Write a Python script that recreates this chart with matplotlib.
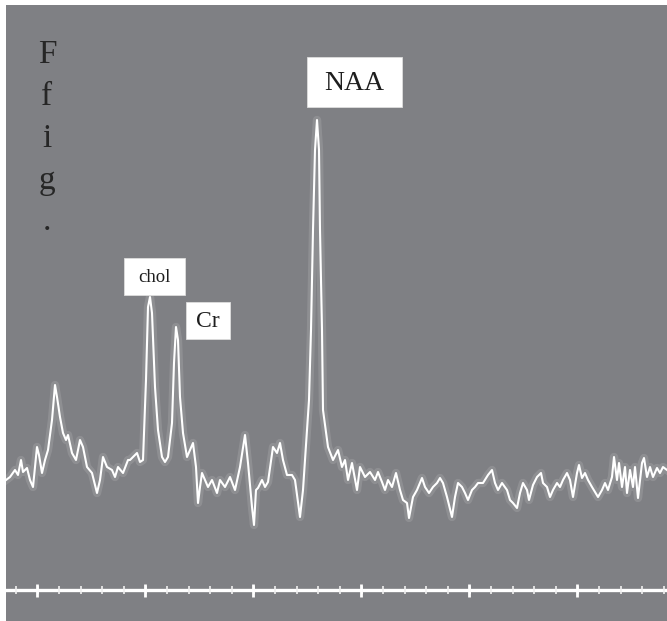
import numpy as np
import matplotlib
matplotlib.use("Agg")
import matplotlib.pyplot as plt
from matplotlib.patches import Rectangle

# Spectrum trace: horizontal position and signal intensity
position = [
    6, 10, 15, 18, 21, 23, 27, 30, 33, 37, 39, 42,
    45, 48, 52, 55, 57, 60, 63, 66, 68, 72, 76, 80,
    83, 87, 92, 97, 100, 103, 107, 112, 115, 118, 123, 128,
    130, 137, 140, 143, 146, 148, 150, 152, 155, 158, 162, 165,
    168, 172, 174, 176, 178, 180, 183, 187, 190, 193, 196, 198,
    200, 202, 205, 208, 212, 217, 220, 225, 230, 235, 240, 245,
    248, 252, 254, 256, 258, 262, 265, 268, 273, 277, 280, 283,
    287, 292, 295, 300, 303, 306, 309, 311, 313, 315, 317, 319,
    320, 322, 323, 328, 333, 338, 342, 345, 348, 352, 357, 360,
    365, 370, 375, 378, 382, 385, 388, 392, 396, 400, 403, 407,
    409, 413, 417, 422, 425, 429, 433, 437, 440, 443, 447, 452,
    455, 458, 462, 465, 468, 472, 475, 478, 483, 488, 492, 495,
    498, 502, 507, 510, 513, 517, 520, 523, 527, 529, 533, 537,
    541, 543, 547, 550, 553, 557, 560, 563, 567, 570, 573, 577,
    579, 582, 585, 588, 592, 595, 598, 602, 605, 608, 612, 614,
    617, 619, 622, 625, 627, 630, 633, 635, 638, 642, 644, 647,
    650, 653, 657, 660, 663, 667,
]
intensity = [
    120, 123, 130, 125, 140, 128, 132, 120, 113, 153, 145, 127,
    140, 150, 180, 215, 203, 183, 167, 160, 165, 147, 140, 160,
    153, 133, 127, 107, 120, 143, 133, 130, 123, 133, 127, 140,
    140, 147, 138, 140, 220, 293, 303, 287, 213, 170, 143, 138,
    143, 177, 237, 273, 260, 203, 167, 143, 150, 157, 133, 97,
    113, 127, 120, 113, 120, 107, 120, 113, 123, 110, 133, 165,
    137, 93, 75, 110, 112, 120, 113, 118, 153, 147, 157, 140,
    125, 125, 120, 83, 110, 155, 200, 270, 370, 450, 480, 450,
    370, 270, 190, 153, 140, 150, 133, 140, 120, 137, 110, 133,
    123, 128, 120, 128, 118, 110, 120, 113, 127, 110, 100, 97,
    82, 103, 110, 122, 113, 107, 113, 117, 122, 117, 103, 83,
    103, 117, 113, 107, 100, 110, 113, 117, 117, 125, 130, 117,
    110, 117, 110, 100, 97, 92, 107, 117, 110, 100, 115, 123,
    127, 117, 113, 103, 110, 117, 113, 120, 127, 120, 103, 127,
    135, 122, 127, 120, 113, 108, 103, 110, 117, 110, 123, 143,
    120, 137, 113, 133, 107, 130, 113, 133, 102, 137, 142, 123,
    133, 123, 132, 127, 133, 130,
]

# Peak labels and where their boxes sit (x-centre, intensity-centre)
peak_labels = ["NAA", "chol", "Cr"]
peak_label_x = [354.5, 154.5, 208.0]
peak_label_y = [518.0, 324.0, 279.5]

# Frequency scale along the bottom
scale_level = 10
scale_major = [37, 145, 253, 361, 469, 577]
scale_minor_start, scale_minor_step = 16, 21.6

W, H = 667, 621
fig = plt.figure(figsize=(W / 100, H / 100), dpi=100, facecolor="white")
ax = fig.add_axes([6 / W, 0, 661 / W, 616 / H])
ax.set_facecolor("#7f8084")
ax.set_xlim(6, 667)
ax.set_ylim(-21, 595)
ax.set_xticks([])
ax.set_yticks([])
for s in ax.spines.values():
    s.set_visible(False)

# glow around the trace, then the trace itself
ax.plot(position, intensity, color="white", lw=6, alpha=0.12,
        solid_joinstyle="round", zorder=2)
ax.plot(position, intensity, color="white", lw=1.5,
        solid_joinstyle="round", zorder=3)

# scale bar with ticks
ax.axhline(scale_level, color="white", lw=2.4, zorder=3)
minor = np.arange(scale_minor_start, 667, scale_minor_step)
ax.vlines(minor, scale_level - 4, scale_level + 4, color="#f0f0f0", lw=1.2, zorder=3)
ax.vlines(scale_major, scale_level - 6.5, scale_level + 6.5, color="white", lw=2.0, zorder=3)

# labelled boxes over the peaks
box_sizes = [(95, 50), (61, 37), (44, 37)]
font_sizes = [20, 13.5, 17]
for name, cx, cy, (bw, bh), fs in zip(peak_labels, peak_label_x, peak_label_y,
                                      box_sizes, font_sizes):
    ax.add_patch(Rectangle((cx - bw / 2, cy - bh / 2), bw, bh,
                           facecolor="white", edgecolor="#dddddd", lw=0.6, zorder=4))
    ax.text(cx, cy - 1, name, ha="center", va="center", fontsize=fs,
            family="Liberation Serif", color="#1e1e1e", zorder=5)

# vertical "Ffig." column at the top left
for ch, base in zip(["F", "f", "i", "g", "."], [63, 105, 147, 189, 230]):
    fig.text(47 / W, 1 - base / H, ch, ha="center", va="baseline",
             fontsize=24, family="Liberation Serif", color="#262626")

fig.savefig("out.png", dpi=100, facecolor="white")
